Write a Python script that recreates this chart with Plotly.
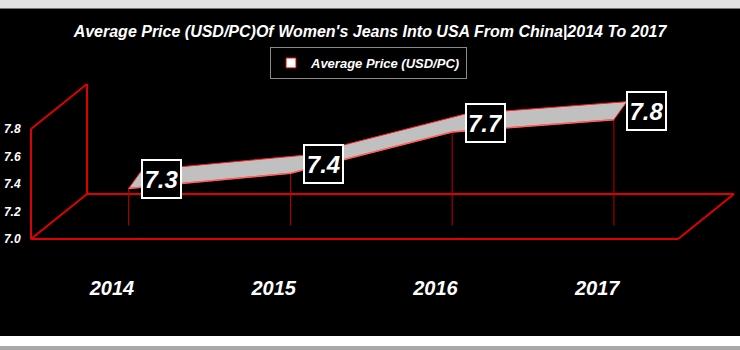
import plotly.graph_objects as go

# ---------------- data ----------------
years = ["2014", "2015", "2016", "2017"]
prices = [7.27, 7.38, 7.68, 7.77]
y_ticks = [7.0, 7.2, 7.4, 7.6, 7.8]
series_name = "Average Price (USD/PC)"
chart_title = "Average Price (USD/PC)Of Women's Jeans Into USA From China|2014 To 2017"

# ---------------- geometry (layout) ----------------
W, H = 740, 350
ML, MB = 25, 100
PLOT_W, PLOT_H = W - ML, H - MB
CAT_PX = 161.75        # pixels per category on the front plane
FRONT_LEFT_PX = 31     # x pixel of front-left wall edge
VAL_PX = 137.5         # pixels per price unit
FLOOR_PX = 239         # y pixel of the front floor edge
Y_MIN, Y_MAX = y_ticks[0], y_ticks[-1]
DEPTH_PX = (56, 45)    # oblique depth of the 3D box
SERIES_DEPTH = 0.3     # depth fraction where the ribbon sits
RIBBON_PX = (13, 18)   # ribbon thickness offset

x_lo = -0.5 - (FRONT_LEFT_PX - ML) / CAT_PX
x_hi = x_lo + PLOT_W / CAT_PX
y_lo = Y_MIN - ((H - MB) - FLOOR_PX) / VAL_PX
y_hi = y_lo + PLOT_H / VAL_PX
DX, DY = DEPTH_PX[0] / CAT_PX, DEPTH_PX[1] / VAL_PX
RDX, RDY = RIBBON_PX[0] / CAT_PX, RIBBON_PX[1] / VAL_PX

RED = "#e00000"
WHITE = "#ffffff"
FONT = "Liberation Sans Narrow, Arial Narrow, Liberation Sans, sans-serif"


def py(px):
    """pixel row -> paper y"""
    return ((H - MB) - px) / PLOT_H


def pxx(px):
    """pixel column -> paper x"""
    return (px - ML) / PLOT_W


fig = go.Figure()

# 3D box frame (left wall + floor)
L, R = -0.5, len(years) - 0.5
segs = [
    ((L, Y_MIN), (L, Y_MAX)),
    ((L + DX, Y_MIN + DY), (L + DX, Y_MAX + DY)),
    ((L, Y_MAX), (L + DX, Y_MAX + DY)),
    ((L, Y_MIN), (L + DX, Y_MIN + DY)),
    ((L, Y_MIN), (R, Y_MIN)),
    ((L + DX, Y_MIN + DY), (R + DX, Y_MIN + DY)),
    ((R, Y_MIN), (R + DX, Y_MIN + DY)),
]
fx, fy = [], []
for (a, b) in segs:
    fx += [a[0], b[0], None]
    fy += [a[1], b[1], None]
fig.add_trace(go.Scatter(x=fx, y=fy, mode="lines", line=dict(color=RED, width=2),
                         hoverinfo="skip", showlegend=False))

# series positions
xs = [i + SERIES_DEPTH * DX for i in range(len(years))]
ys = [v + SERIES_DEPTH * DY for v in prices]
floor_y = Y_MIN + SERIES_DEPTH * DY

# drop lines
dx_, dy_ = [], []
for x, y in zip(xs, ys):
    dx_ += [x, x, None]
    dy_ += [y, floor_y, None]
fig.add_trace(go.Scatter(x=dx_, y=dy_, mode="lines", line=dict(color="#c00000", width=1),
                         hoverinfo="skip", showlegend=False))

# ribbon
bx = [x + RDX for x in xs]
by = [y + RDY for y in ys]
fig.add_trace(go.Scatter(x=xs + bx[::-1] + [xs[0]], y=ys + by[::-1] + [ys[0]],
                         mode="lines", fill="toself", fillcolor="#c0c0c0",
                         line=dict(color="#ff2020", width=1),
                         hoverinfo="skip", showlegend=False))
fig.add_trace(go.Scatter(x=xs, y=ys, mode="lines", line=dict(color="#ff6060", width=1.5),
                         hoverinfo="skip", showlegend=False))

# legend entry
fig.add_trace(go.Scatter(x=[None], y=[None], mode="markers", name=series_name,
                         marker=dict(symbol="square", size=10, color=WHITE,
                                     line=dict(color=RED, width=1))))

# value labels
for x, y, v in zip(xs, ys, prices):
    fig.add_annotation(x=x, y=y, xref="x", yref="y", text=f"{v:.1f}", showarrow=False,
                       xshift=33, yshift=9, width=33, height=32,
                       font=dict(family=FONT, size=24, color=WHITE, weight="bold", style="italic"),
                       bgcolor="black", bordercolor=WHITE, borderwidth=2, borderpad=2)

# background decorations
shapes = [
    dict(type="rect", xref="paper", yref="paper", x0=pxx(0), x1=pxx(W), y0=py(0), y1=py(8),
         fillcolor="#e2e2e2", line_width=0, layer="below"),
    dict(type="rect", xref="paper", yref="paper", x0=pxx(0), x1=pxx(W), y0=py(336), y1=py(9),
         fillcolor="black", line_width=0, layer="below"),
    dict(type="line", xref="paper", yref="paper", x0=pxx(0), x1=pxx(W), y0=py(8.5), y1=py(8.5),
         line=dict(color="#777777", width=1), layer="below"),
    dict(type="rect", xref="paper", yref="paper", x0=pxx(0), x1=pxx(W), y0=py(350), y1=py(346),
         fillcolor="#a8a8a8", line_width=0, layer="below"),
]

fig.update_layout(
    width=W, height=H,
    margin=dict(l=ML, r=0, t=0, b=MB, autoexpand=False),
    paper_bgcolor="white", plot_bgcolor="rgba(0,0,0,0)",
    shapes=shapes,
    title=dict(text=chart_title, x=0.5, xref="container", y=1 - 31 / H, yref="container",
               xanchor="center", yanchor="middle",
               font=dict(family=FONT, size=16, color=WHITE, weight="bold", style="italic")),
    legend=dict(x=pxx(270), y=py(47), xanchor="left", yanchor="top",
                bgcolor="black", bordercolor="#8a8a8a", borderwidth=1,
                itemwidth=30, tracegroupgap=0,
                font=dict(family=FONT, size=13, color=WHITE, weight="bold", style="italic"),
                itemclick=False, itemdoubleclick=False),
    xaxis=dict(range=[x_lo, x_hi], tickvals=list(range(len(years))), ticktext=years,
               showgrid=False, zeroline=False, showline=False,
               ticks="outside", ticklen=20, tickcolor="rgba(0,0,0,0)",
               tickfont=dict(family=FONT, size=20, color=WHITE, weight="bold", style="italic"),
               fixedrange=True),
    yaxis=dict(range=[y_lo, y_hi], tickvals=y_ticks, tickformat=".1f",
               showgrid=False, zeroline=False, showline=False,
               ticks="outside", ticklen=1, tickcolor="rgba(0,0,0,0)",
               tickfont=dict(family=FONT, size=12, color=WHITE, weight="bold", style="italic"),
               fixedrange=True),
    showlegend=True,
)

fig.write_html("out.html")
